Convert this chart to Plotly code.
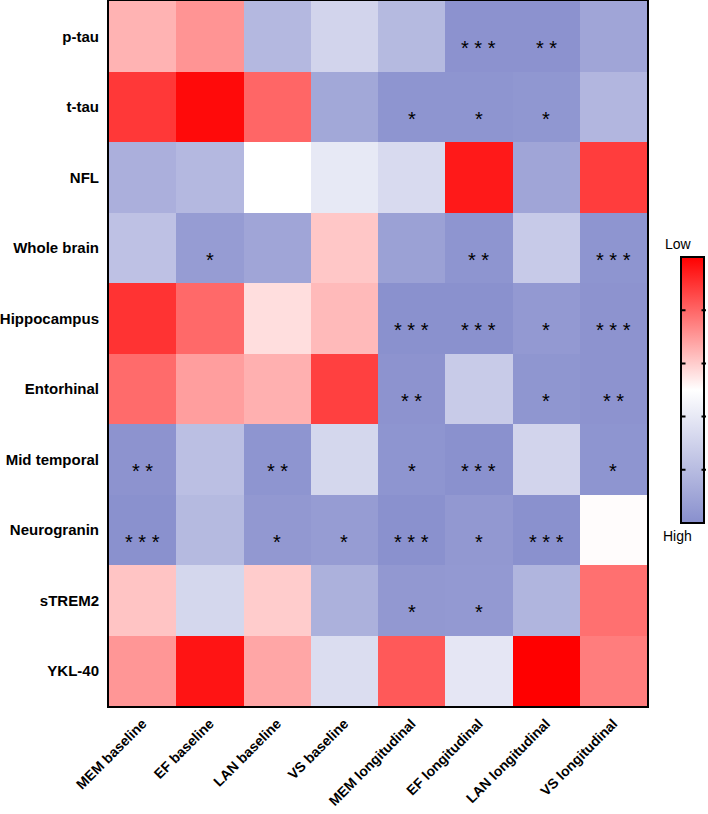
import plotly.graph_objects as go

columns = ["MEM baseline", "EF baseline", "LAN baseline", "VS baseline",
           "MEM longitudinal", "EF longitudinal", "LAN longitudinal", "VS longitudinal"]
rows = ["p-tau", "t-tau", "NFL", "Whole brain", "Hippocampus", "Entorhinal",
        "Mid temporal", "Neurogranin", "sTREM2", "YKL-40"]

# scale: +1 = Low (red), -1 = High (blue)
p_tau        = [0.30, 0.42, -0.63, -0.38, -0.62, -0.97, -0.97, -0.80]
t_tau        = [0.78, 0.96, 0.60, -0.78, -0.95, -0.95, -0.93, -0.65]
nfl          = [-0.71, -0.63, 0.00, -0.20, -0.33, 0.90, -0.80, 0.76]
whole_brain  = [-0.55, -0.88, -0.80, 0.22, -0.84, -0.95, -0.47, -0.95]
hippocampus  = [0.80, 0.59, 0.13, 0.27, -0.98, -0.98, -0.91, -0.96]
entorhinal   = [0.58, 0.38, 0.31, 0.75, -0.96, -0.46, -0.94, -0.96]
mid_temporal = [-0.96, -0.57, -0.95, -0.36, -0.95, -0.98, -0.38, -0.95]
neurogranin  = [-0.98, -0.62, -0.92, -0.88, -0.98, -0.92, -0.98, 0.01]
strem2       = [0.23, -0.36, 0.20, -0.70, -0.92, -0.91, -0.66, 0.56]
ykl40        = [0.41, 0.92, 0.35, -0.30, 0.65, -0.22, 1.00, 0.51]

values = [p_tau, t_tau, nfl, whole_brain, hippocampus, entorhinal,
          mid_temporal, neurogranin, strem2, ykl40]

sig_p_tau        = ["", "", "", "", "", "***", "**", ""]
sig_t_tau        = ["", "", "", "", "*", "*", "*", ""]
sig_nfl          = ["", "", "", "", "", "", "", ""]
sig_whole_brain  = ["", "*", "", "", "", "**", "", "***"]
sig_hippocampus  = ["", "", "", "", "***", "***", "*", "***"]
sig_entorhinal   = ["", "", "", "", "**", "", "*", "**"]
sig_mid_temporal = ["**", "", "**", "", "*", "***", "", "*"]
sig_neurogranin  = ["***", "", "*", "*", "***", "*", "***", ""]
sig_strem2       = ["", "", "", "", "*", "*", "", ""]
sig_ykl40        = ["", "", "", "", "", "", "", ""]

stars = [sig_p_tau, sig_t_tau, sig_nfl, sig_whole_brain, sig_hippocampus,
         sig_entorhinal, sig_mid_temporal, sig_neurogranin, sig_strem2, sig_ykl40]

cbar_ticks = [-0.6, -0.2, 0.2, 0.6]

FONT = "Arial, 'Liberation Sans', Helvetica, sans-serif"

colorscale = [[0.0, "#888FCD"], [0.5, "#FFFFFF"], [1.0, "#FF0000"]]

W, H = 708, 814
ml, mr, mt, mb = 109, 61, 1, 108
pw = W - ml - mr
ph = H - mt - mb

cb_x0, cb_x1 = 681, 706
cb_top, cb_bot = 257, 523


def px_to_paper_x(px):
    return (px - ml) / pw


def px_to_paper_y(py):
    return (H - mb - py) / ph


fig = go.Figure(go.Heatmap(
    z=values, x=columns, y=rows,
    zmin=-1, zmax=1,
    colorscale=colorscale,
    xgap=0, ygap=0,
    colorbar=dict(
        x=px_to_paper_x(cb_x0), xanchor="left", xpad=0,
        y=px_to_paper_y(cb_bot), yanchor="bottom", ypad=0,
        len=(cb_bot - cb_top) / ph, lenmode="fraction",
        thickness=cb_x1 - cb_x0 - 2, thicknessmode="pixels",
        outlinewidth=2, outlinecolor="black",
        showticklabels=False, ticks="",
    ),
))

annotations = []
for i, r in enumerate(rows):
    for j, c in enumerate(columns):
        s = stars[i][j]
        if s:
            annotations.append(dict(
                x=c, y=r, xref="x", yref="y",
                text=" ".join(list(s)), showarrow=False,
                yshift=-12,
                font=dict(family=FONT, size=20, color="black"),
            ))

cb_xc = px_to_paper_x((cb_x0 + cb_x1) / 2)
annotations.append(dict(x=cb_xc, y=px_to_paper_y(cb_top), xref="paper", yref="paper",
                        text="Low", showarrow=False, yanchor="bottom", yshift=3,
                        font=dict(family=FONT, size=14, color="black")))
annotations.append(dict(x=cb_xc, y=px_to_paper_y(cb_bot), xref="paper", yref="paper",
                        text="High", showarrow=False, yanchor="top", yshift=-3,
                        font=dict(family=FONT, size=14, color="black")))

# colorbar tick marks on both sides, drawn as short arrow lines above the bar
for v in cbar_ticks:
    py = cb_bot - (cb_bot - cb_top) * (v + 1) / 2
    yp = px_to_paper_y(py)
    for xe, dx in [(cb_x0, 6), (cb_x1, -6)]:
        annotations.append(dict(
            x=px_to_paper_x(xe), y=yp, xref="paper", yref="paper",
            text="", showarrow=True, arrowhead=0, arrowwidth=2,
            arrowcolor="black", ax=dx, ay=0, standoff=0, startstandoff=0,
        ))

fig.update_layout(
    width=W, height=H,
    margin=dict(l=ml, r=mr, t=mt, b=mb, pad=0, autoexpand=False),
    paper_bgcolor="white", plot_bgcolor="white",
    font=dict(family=FONT, color="black"),
    annotations=annotations,
    xaxis=dict(
        tickangle=-45, showgrid=False, zeroline=False, automargin=False,
        showline=True, linecolor="black", linewidth=2, mirror=True,
        ticks="", ticklabelstandoff=2,
        tickfont=dict(family=FONT, size=14, color="black", weight="bold"),
    ),
    yaxis=dict(
        autorange="reversed", showgrid=False, zeroline=False, automargin=False,
        showline=True, linecolor="black", linewidth=2, mirror=True,
        ticks="", ticklabelstandoff=5,
        tickfont=dict(family=FONT, size=15, color="black", weight="bold"),
    ),
)

fig.write_html("out.html", config={"displayModeBar": False},
               post_script="document.body.style.margin='0';document.body.style.overflow='hidden';")
